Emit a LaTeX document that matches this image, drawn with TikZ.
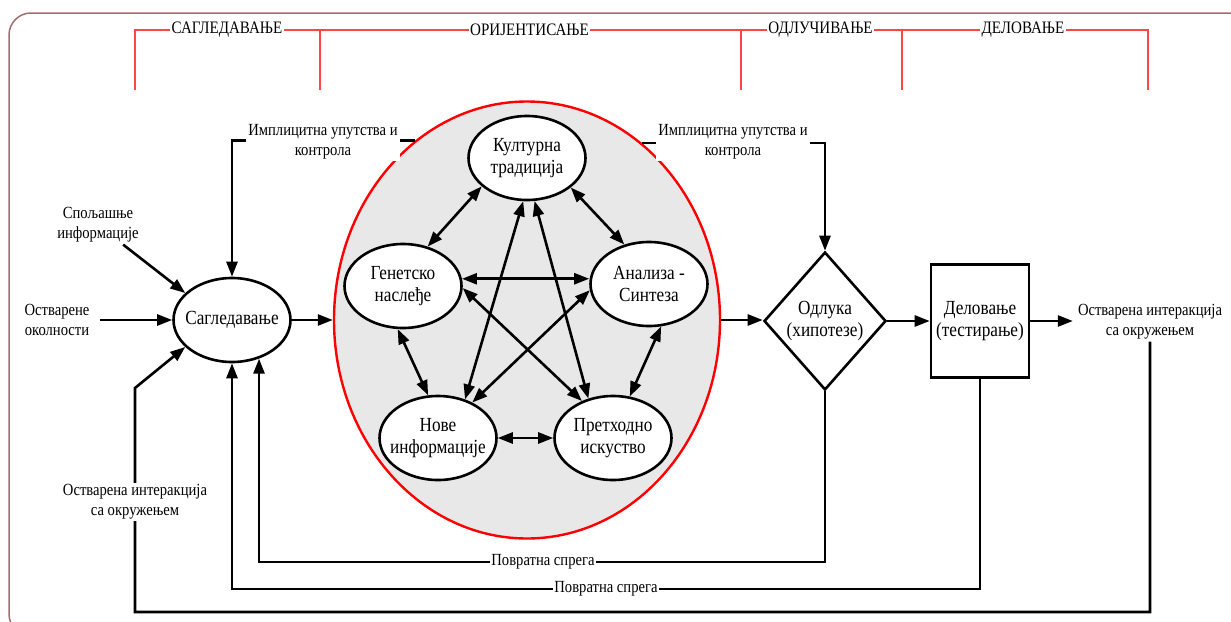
\documentclass[tikz,border=0pt]{standalone}
\usepackage{fontspec}
\setmainfont{Liberation Serif}[FakeStretch=0.86]
\usetikzlibrary{arrows.meta,shapes.geometric}

\definecolor{framebrown}{RGB}{160,110,110}
\definecolor{phasered}{RGB}{255,70,70}
\definecolor{orientgray}{RGB}{232,232,232}

\newcommand{\dgNode}{\fontsize{20pt}{22.5pt}\selectfont}
\newcommand{\dgLabel}{\fontsize{17pt}{20pt}\selectfont}
\newcommand{\dgHead}{\fontsize{17.5pt}{20pt}\selectfont}

\begin{document}
\begin{tikzpicture}[x=1pt,y=-1pt,
  bigtri/.tip={Triangle[length=15pt,width=11pt]},
  conn/.style={line width=2.6pt,-bigtri},
  both/.style={line width=2.6pt,bigtri-bigtri},
  wire/.style={line width=2.6pt},
  oval/.style={ellipse,draw,line width=2.6pt,fill=white,minimum width=117pt,
    minimum height=84pt,inner xsep=-12pt,inner ysep=-6pt,align=center,font=\dgNode},
  lbl/.style={align=center,font=\dgLabel,inner sep=2pt},
  onwire/.style={lbl,fill=white},
  head/.style={font=\dgHead,fill=white,inner sep=1.5pt},
  phase/.style={draw=phasered,line width=1.3pt},
]
\useasboundingbox (0,0) rectangle (1231,621);

% outer frame
\draw[framebrown,line width=1.5pt,rounded corners=22pt] (9,13) rectangle (1250,636);

% phase brackets along the top
\coordinate (t0) at (135,30);  \coordinate (b0) at (135,90);
\coordinate (t1) at (320,30);  \coordinate (b1) at (320,90);
\coordinate (t2) at (741,30);  \coordinate (b2) at (741,90);
\coordinate (t3) at (902,30);  \coordinate (b3) at (902,90);
\coordinate (t4) at (1148,30); \coordinate (b4) at (1148,90);
\draw[phase] (b0) -- (t0) -- (t4) -- (b4);
\draw[phase] (t1) -- (b1);
\draw[phase] (t2) -- (b2);
\draw[phase] (t3) -- (b3);
\node[head] (ph1) at (227,30) {САГЛЕДАВАЊЕ};
\node[head] (ph2) at (529.5,30) {ОРИЈЕНТИСАЊЕ};
\node[head] (ph3) at (820.5,30) {ОДЛУЧИВАЊЕ};
\node[head] (ph4) at (1023,30) {ДЕЛОВАЊЕ};

% orientation region
\node[ellipse,draw=red,fill=orientgray,line width=2.4pt,minimum width=386pt,
  minimum height=437pt] (big) at (527,320) {};

% main nodes
\node[oval] (sag) at (232,320) {Сагледавање};
\node[diamond,draw,line width=2.6pt,fill=white,minimum width=122pt,
  minimum height=138pt,inner sep=0pt,align=center,font=\dgNode] (odl) at (825,321)
  {Одлука\\(хипотезе)};
\node[rectangle,draw,line width=2.6pt,fill=white,minimum width=98pt,
  minimum height=113pt,inner sep=0pt,align=center,font=\dgNode] (act) at (980,321)
  {Деловање\\(тестирање)};

% nodes inside the orientation region
\node[oval] (kult) at (527,158) {Културна\\традиција};
\node[oval] (gen) at (403,286) {Генетско\\наслеђе};
\node[oval] (anal) at (649,284) {Анализа -\\Синтеза};
\node[oval] (nove) at (438,438) {Нове\\информације};
\node[oval] (preth) at (613,438) {Претходно\\искуство};

\draw[both] (kult.212) -- (gen.58);
\draw[both] (kult.326) -- (anal.122);
\draw[both] (gen.7) -- (gen.7 -| anal.west);
\draw[both] (gen.263) -- (nove.103);
\draw[both] (anal.286) -- (preth.68);
\draw[both] (nove.east) -- (preth.west);
\draw[both] (kult.265) -- (nove.55);
\draw[both] (kult.280) -- (preth.122);
\draw[both] (gen.358) -- (preth.130);
\draw[both] (anal.186) -- (nove.46);

% inputs on the left
\node[lbl] (ext) at (98,225) {Спољашње\\информације};
\node[lbl] (circ) at (57,320) {Остварене\\околности};
\draw[conn] (ext) -- (sag.150);
\draw[conn,shorten <=8pt] (circ.east) -- (sag.west);

% main flow
\draw[conn] (sag.east) -- (big.west);
\draw[conn] (big.east) -- (big.east -| odl.west);
\draw[conn] (odl.east) -- (act.west);
\node[lbl] (outR) at (1150,322) {Остварена интеракција\\са окружењем};
\draw[conn,shorten >=3pt] (act.east) -- (act.east -| outR.west);

% implicit guidance and control
\draw[conn] (big.122.6) -| (sag.north);
\draw[conn] (big.57.4) -| (odl.north);
\node[onwire] (impl1) at (323,142) {Имплицитна упутства и\\контрола};
\node[onwire] (impl2) at (733,142) {Имплицитна упутства и\\контрола};

% feedback loops
\coordinate (loop1) at (0,562);
\coordinate (loop2) at (0,589);
\coordinate (loop3) at (0,612);
\coordinate (leftbend) at (135,388);
\draw[conn] (odl.south) -- (odl.south |- loop1) -| (sag.-55);
\draw[conn] (act.south) -- (act.south |- loop2) -| (sag.south);
\draw[conn] (outR.south) -- (outR.south |- loop3) -| (leftbend) -- (sag.210);
\node[onwire,inner sep=1pt] (fb1) at (543,562) {Повратна спрега};
\node[onwire,inner sep=1pt] (fb2) at (606,589) {Повратна спрега};
\node[onwire] (outL) at (135,502) {Остварена интеракција\\са окружењем};
\end{tikzpicture}
\end{document}
